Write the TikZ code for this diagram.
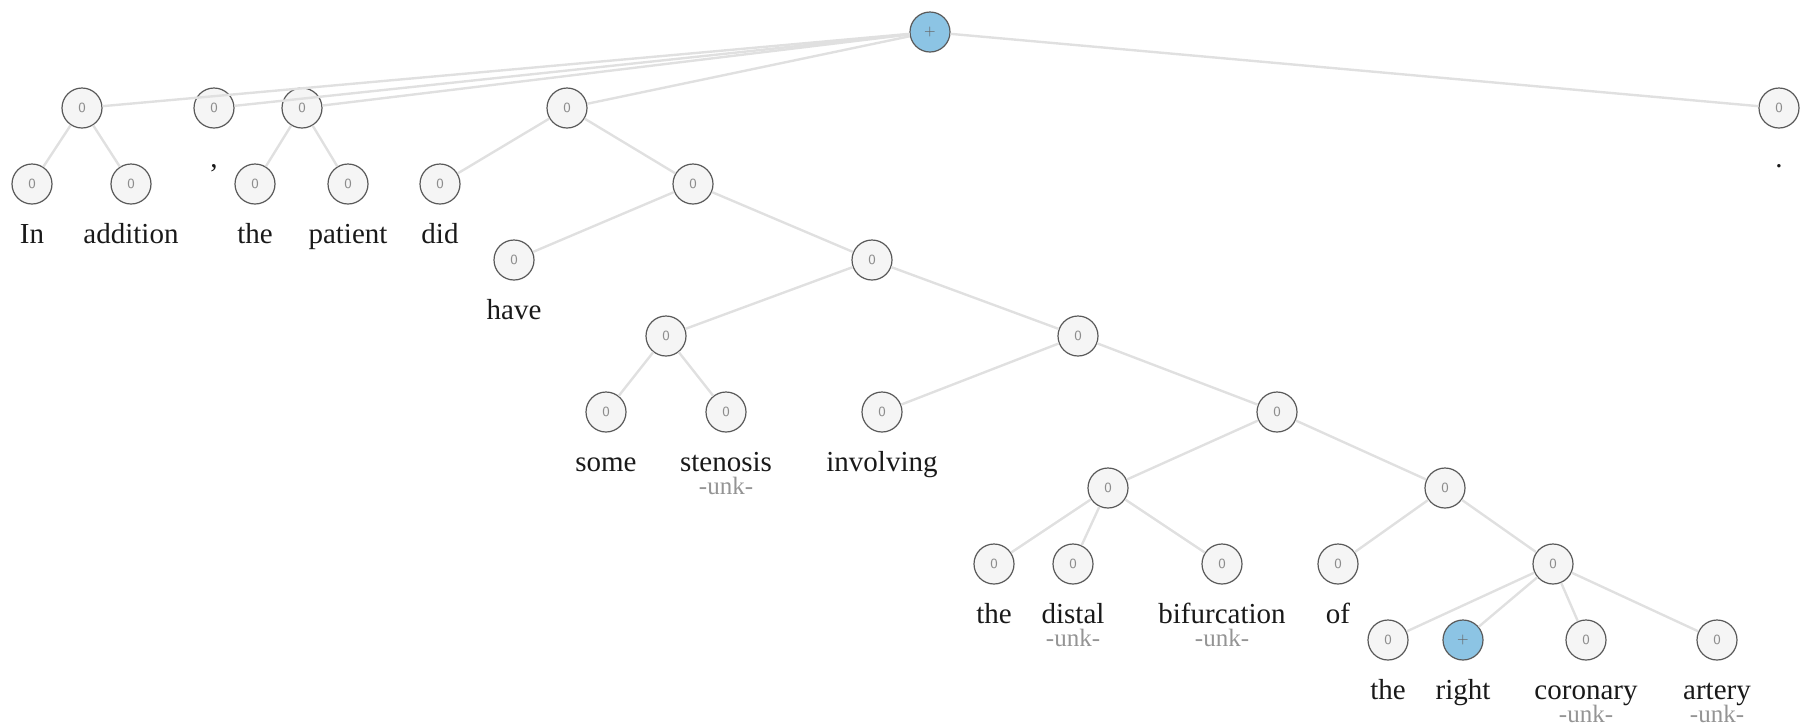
\documentclass[tikz,border=0pt]{standalone}
\usepackage{fontspec}
\setmainfont{Liberation Serif}
\usetikzlibrary{positioning}
\definecolor{posblue}{RGB}{140,196,228}
\tikzset{
  tn/.style={circle,draw=black!65,fill=black!4,line width=0.6pt,minimum size=20pt,inner sep=0pt,
    font=\sffamily\fontsize{7}{7}\selectfont,text=black!45},
  hot/.style={tn,fill=posblue,text=black!60},
  edge/.style={draw=black!12,line width=1.2pt},
  word/.style={anchor=base,inner sep=0pt,font=\fontsize{14.5}{16}\selectfont,text=black!90},
  unk/.style={anchor=base,inner sep=0pt,font=\fontsize{12.5}{14}\selectfont,text=black!42}
}
\begin{document}
\begin{tikzpicture}[x=0.5pt,y=-0.5pt,semithick]
\useasboundingbox (0,0) rectangle (1800,725);
\node[hot] (r) at (930,32) {+};
\node[tn] (a) at (82,108) {0};
\node[tn] (cm) at (214,108) {0};
\node[tn] (b) at (302,108) {0};
\node[tn] (c) at (567,108) {0};
\node[tn] (pd) at (1779,108) {0};
\node[tn] (in) at (32,184) {0};
\node[tn] (ad) at (131,184) {0};
\node[tn] (tha) at (255,184) {0};
\node[tn] (pa) at (348,184) {0};
\node[tn] (di) at (440,184) {0};
\node[tn] (d) at (693,184) {0};
\node[tn] (ha) at (514,260) {0};
\node[tn] (e) at (872,260) {0};
\node[tn] (f) at (666,336) {0};
\node[tn] (g) at (1078,336) {0};
\node[tn] (so) at (606,412) {0};
\node[tn] (st) at (726,412) {0};
\node[tn] (iv) at (882,412) {0};
\node[tn] (h) at (1277,412) {0};
\node[tn] (i) at (1108,488) {0};
\node[tn] (j) at (1445,488) {0};
\node[tn] (thb) at (994,564) {0};
\node[tn] (ds) at (1073,564) {0};
\node[tn] (bi) at (1222,564) {0};
\node[tn] (of) at (1338,564) {0};
\node[tn] (k) at (1553,564) {0};
\node[tn] (thc) at (1388,640) {0};
\node[hot] (ri) at (1463,640) {+};
\node[tn] (co) at (1586,640) {0};
\node[tn] (ar) at (1717,640) {0};
\foreach \p/\c in {r/a,r/cm,r/b,r/c,r/pd,a/in,a/ad,b/tha,b/pa,c/di,c/d,d/ha,d/e,e/f,e/g,
  f/so,f/st,g/iv,g/h,h/i,h/j,i/thb,i/ds,i/bi,j/of,j/k,k/thc,k/ri,k/co,k/ar}
  \draw[edge] (\p) -- (\c);
\foreach \n/\t in {in/In,ad/addition,cm/{,},tha/the,pa/patient,di/did,pd/.,ha/have,so/some,
  st/stenosis,iv/involving,thb/the,ds/distal,bi/bifurcation,of/of,thc/the,ri/right,co/coronary,ar/artery}
  \node[word] (w\n) at ([yshift=-29.5pt]\n.center) {\t};
\foreach \n in {st,ds,bi,co,ar}
  \node[unk] (u\n) at ([yshift=-41pt]\n.center) {-unk-};
\end{tikzpicture}
\end{document}
